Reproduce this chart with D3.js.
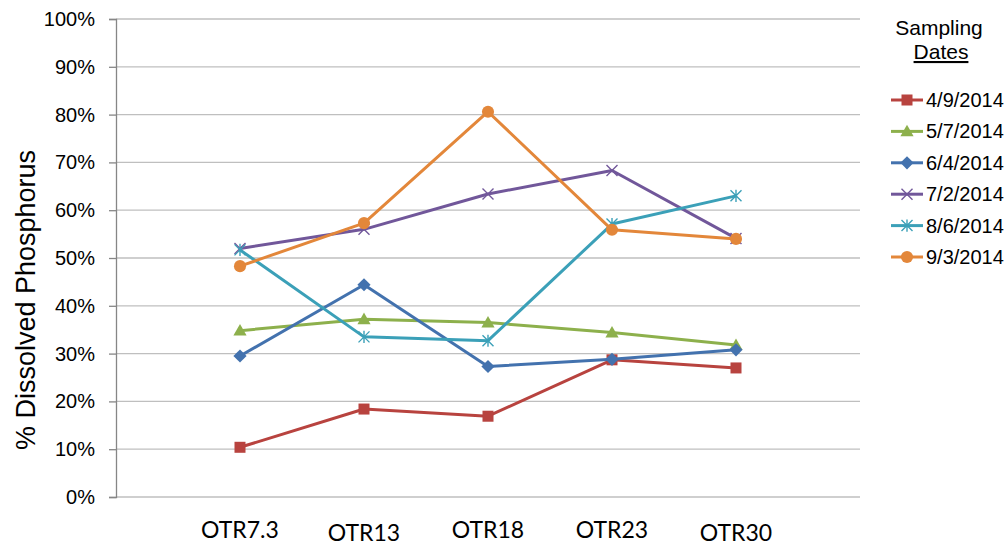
<!DOCTYPE html>
<html>
<head>
<meta charset="utf-8">
<script src="https://cdn.jsdelivr.net/npm/d3@7"></script>
<style>
  html, body { margin: 0; padding: 0; background: #fff; }
  svg { display: block; }
  text { font-family: Arial, "Liberation Sans", sans-serif; fill: #000; }
</style>
</head>
<body>
<svg id="chart" width="1008" height="546"></svg>
<script>
// Sampling sites along the river
const sites = ["OTR7.3", "OTR13", "OTR18", "OTR23", "OTR30"];
// Sampling dates (series names)
const dates = ["4/9/2014", "5/7/2014", "6/4/2014", "7/2/2014", "8/6/2014", "9/3/2014"];
// Percent dissolved phosphorus per date, one value per site
const apr09 = [10.4, 18.4, 16.9, 28.7, 27.0];
const may07 = [34.8, 37.2, 36.5, 34.4, 31.8];
const jun04 = [29.5, 44.4, 27.3, 28.8, 30.8];
const jul02 = [52.0, 56.0, 63.4, 68.3, 54.1];
const aug06 = [51.7, 33.5, 32.7, 57.1, 63.0];
const sep03 = [48.3, 57.3, 80.6, 55.9, 54.0];
const yTicks = [0, 10, 20, 30, 40, 50, 60, 70, 80, 90, 100];

const seriesValues = [apr09, may07, jun04, jul02, aug06, sep03];
const colors = ["#B8433F", "#8DB04C", "#4372AE", "#71579A", "#3BA0B8", "#E3873A"];
const symbols = ["square", "triangle", "diamond", "cross", "asterisk", "circle"];

const svg = d3.select("#chart");
const plotLeft = 116, plotRight = 860, plotTop = 19, plotBottom = 497;

const x = d3.scalePoint().domain(sites).range([plotLeft, plotRight]).padding(1);
const y = d3.scaleLinear().domain([0, 100]).range([plotBottom, plotTop]);

// Horizontal gridlines
svg.append("g").selectAll("line").data(yTicks).join("line")
  .attr("x1", plotLeft).attr("x2", plotRight)
  .attr("y1", d => y(d)).attr("y2", d => y(d))
  .attr("stroke", "#BFBFBF").attr("stroke-width", 1.3);

// Y axis with outward ticks
const yAxis = d3.axisLeft(y).tickValues(yTicks).tickSize(7).tickPadding(14)
  .tickFormat(d => d + "%");
const gy = svg.append("g").attr("transform", `translate(${plotLeft},0)`).call(yAxis);
gy.select(".domain").attr("stroke", "#868686").attr("stroke-width", 1.3);
gy.selectAll(".tick line").attr("stroke", "#868686").attr("stroke-width", 1.3);
gy.selectAll(".tick text").attr("font-size", 20)
  .attr("font-family", "Arial, 'Liberation Sans', sans-serif").attr("fill", "#000");

// Category labels along the bottom (alternate labels sit slightly lower)
svg.append("g").selectAll("text").data(sites).join("text")
  .attr("x", d => x(d))
  .attr("y", (d, i) => (i === 1 || i === 4) ? 540.5 : 537.5)
  .attr("text-anchor", "middle")
  .style("font-family", "Lato, 'Open Sans', sans-serif")
  .attr("font-size", 23)
  .text(d => d);

// Y axis title
svg.append("text")
  .attr("transform", `translate(35,300) rotate(-90)`)
  .attr("text-anchor", "middle")
  .attr("font-size", 27)
  .text("% Dissolved Phosphorus");

// Marker drawing helper
function drawMarker(g, type, color, size) {
  const s = size;
  if (type === "square") {
    g.append("rect").attr("x", -s / 2).attr("y", -s / 2).attr("width", s).attr("height", s)
      .attr("fill", color);
  } else if (type === "triangle") {
    g.append("path").attr("d", `M0,${-s * 0.6}L${s * 0.6},${s * 0.45}L${-s * 0.6},${s * 0.45}Z`)
      .attr("fill", color);
  } else if (type === "diamond") {
    g.append("path").attr("d", `M0,${-s * 0.6}L${s * 0.6},0L0,${s * 0.6}L${-s * 0.6},0Z`)
      .attr("fill", color);
  } else if (type === "circle") {
    g.append("circle").attr("r", s * 0.55).attr("fill", color);
  } else if (type === "cross") {
    const h = s * 0.5;
    g.append("path").attr("d", `M${-h},${-h}L${h},${h}M${h},${-h}L${-h},${h}`)
      .attr("stroke", color).attr("stroke-width", 1.4).attr("fill", "none");
  } else if (type === "asterisk") {
    const h = s * 0.5;
    g.append("path").attr("d", `M${-h},${-h}L${h},${h}M${h},${-h}L${-h},${h}M0,${-h * 1.1}L0,${h * 1.1}`)
      .attr("stroke", color).attr("stroke-width", 1.4).attr("fill", "none");
  }
}

const line = d3.line().x((d, i) => x(sites[i])).y(d => y(d));

// Series lines and markers
seriesValues.forEach((vals, k) => {
  const g = svg.append("g");
  g.append("path").datum(vals).attr("d", line)
    .attr("fill", "none").attr("stroke", colors[k]).attr("stroke-width", 3)
    .attr("stroke-linejoin", "round");
  vals.forEach((v, i) => {
    const m = g.append("g").attr("transform", `translate(${x(sites[i])},${y(v)})`);
    drawMarker(m, symbols[k], colors[k], 11);
  });
});

// Legend
const legend = svg.append("g");
legend.append("text").attr("x", 939).attr("y", 35).attr("text-anchor", "middle")
  .attr("font-size", 21).text("Sampling");
legend.append("text").attr("x", 941).attr("y", 59).attr("text-anchor", "middle")
  .attr("font-size", 21).attr("text-decoration", "underline").text("Dates");

const rowY = d3.scalePoint().domain(dates).range([100, 257]);
dates.forEach((d, k) => {
  const yy = rowY(d);
  legend.append("line").attr("x1", 891).attr("x2", 923).attr("y1", yy).attr("y2", yy)
    .attr("stroke", colors[k]).attr("stroke-width", 3);
  const m = legend.append("g").attr("transform", `translate(907,${yy})`);
  drawMarker(m, symbols[k], colors[k], 11);
  legend.append("text").attr("x", 926).attr("y", yy + 7).attr("font-size", 20).text(d);
});
</script>
</body>
</html>
